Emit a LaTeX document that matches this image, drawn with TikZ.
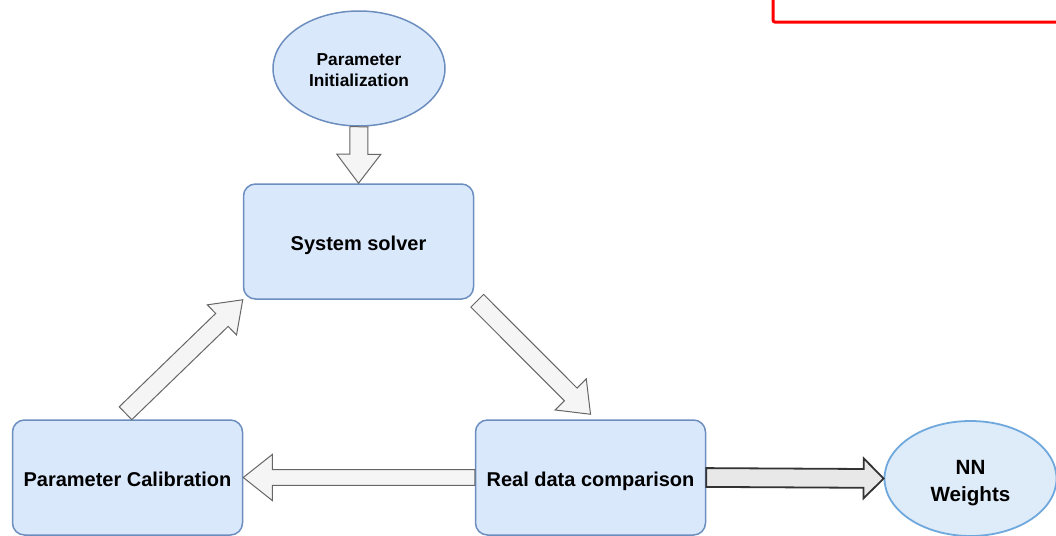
\documentclass[tikz,border=0pt]{standalone}
\usepackage{fontspec}
\setmainfont{Liberation Sans}
\usetikzlibrary{calc,shapes.geometric}
\definecolor{boxfill}{HTML}{DAE8FC}
\definecolor{boxline}{HTML}{6C8EBF}
\definecolor{nnline}{HTML}{6FA8DC}
\definecolor{nnfill}{HTML}{DEEBF9}
\definecolor{arrfill}{HTML}{F5F5F5}
\definecolor{arrline}{HTML}{666666}
\definecolor{outfill}{HTML}{E8E8E8}
\definecolor{outline}{HTML}{333333}
\definecolor{alert}{HTML}{FF0000}

\begin{document}
\begin{tikzpicture}[x=0.5pt, y=-0.5pt,
    stage/.style={draw=boxline, fill=boxfill, line width=0.75pt, rounded corners=6pt,
                  minimum width=115pt, minimum height=57.5pt, inner sep=0pt,
                  text height=9pt, text depth=0pt,
                  font=\fontsize{10}{12}\selectfont\bfseries},
    oval/.style={ellipse, draw=boxline, fill=boxfill, line width=0.75pt,
                 minimum width=86pt, minimum height=57.5pt, inner sep=0pt, align=center}]
  \useasboundingbox (0,0) rectangle (1056,536);
  \clip (0,0) rectangle (1056,536);

  % red frame, mostly cut off at the top
  \draw[alert, line width=1.5pt, rounded corners=1pt] (773,22) rectangle (1100,-60);

  \node[oval, font=\fontsize{8.65}{10.5}\selectfont\bfseries] (init) at (359,68.5)
    {\raisebox{-1pt}[\height][\depth]{Parameter}\\\raisebox{-1pt}[\height][\depth]{Initialization}};
  \node[stage] (solver) at (358.5,241.5) {System solver};
  \node[stage] (calib) at (127.5,477.5) {Parameter Calibration};
  \node[stage] (realdata) at (590.5,477.5) {Real data comparison};
  \node[oval, draw=nnline, fill=nnfill, line width=0.9pt,
        font=\fontsize{10.3}{13.5}\selectfont\bfseries] (nn) at (970.5,478.5)
    {\raisebox{-2.5pt}[\height][\depth]{NN}\\\raisebox{-2.5pt}[\height][\depth]{Weights}};

  \coordinate (sv-out) at ($(solver.south east)+(3,1)$);
  \coordinate (rd-in) at ($(realdata.north)+(0,-5)$);
  \coordinate (pc-out) at ($(calib.north)+(-2,-6)$);

  % block arrows: tail/tip/shaft/head/head length/colours
  \foreach \a/\b/\w/\h/\l/\c/\f/\t in {init.south/solver.north/4.5pt/11pt/14.5pt/arrline/arrfill/0.5pt,
                                  sv-out/rd-in/4.5pt/11pt/14pt/arrline/arrfill/0.5pt,
                                  realdata.west/calib.east/3.9pt/11.5pt/14.5pt/arrline/arrfill/0.5pt,
                                  pc-out/solver.south west/4.5pt/10.5pt/14.5pt/arrline/arrfill/0.5pt,
                                  realdata.east/nn.west/4.7pt/10pt/10pt/outline/outfill/0.9pt}
    { \draw[draw=\c, fill=\f, line width=\t, line join=miter]
             ($(\a)!\w!90:(\b)$) -- ($($(\b)!\l!(\a)$)!\w!90:(\b)$)
          -- ($($(\b)!\l!(\a)$)!\h!90:(\b)$) -- (\b)
          -- ($($(\b)!\l!(\a)$)!\h!-90:(\b)$) -- ($($(\b)!\l!(\a)$)!\w!-90:(\b)$)
          -- ($(\a)!\w!-90:(\b)$) -- cycle; }
\end{tikzpicture}
\end{document}
